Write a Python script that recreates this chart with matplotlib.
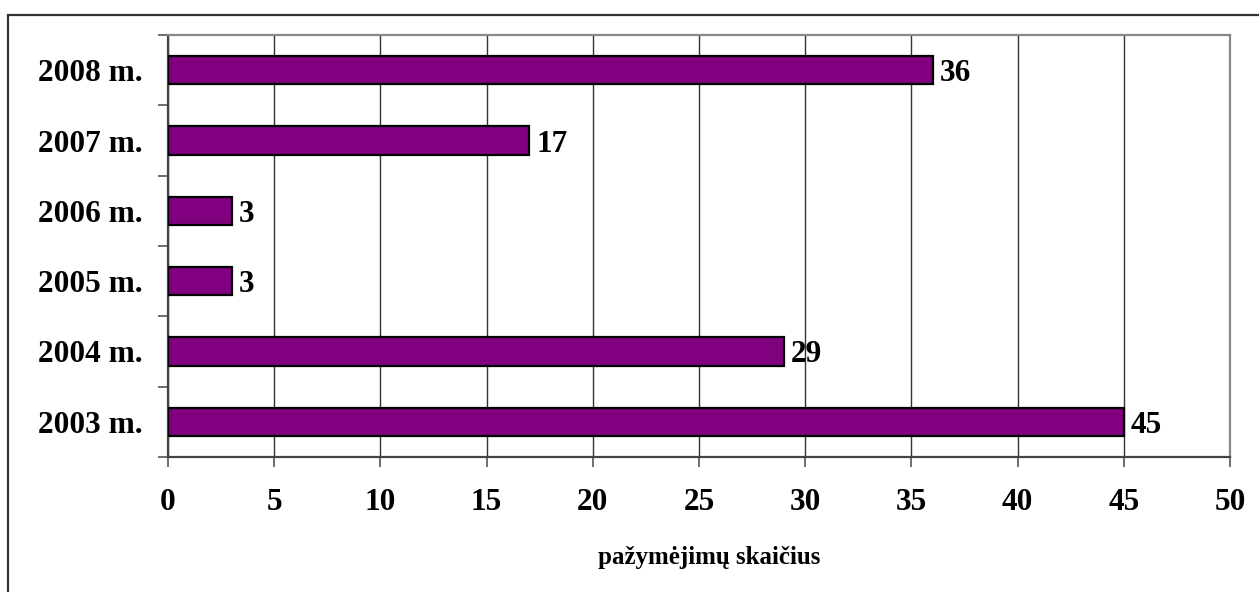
import matplotlib
matplotlib.use("Agg")
import matplotlib.pyplot as plt
from matplotlib.patches import Rectangle

categories = ["2003 m.", "2004 m.", "2005 m.", "2006 m.", "2007 m.", "2008 m."]
values = [45, 29, 3, 3, 17, 36]
xticks = [0, 5, 10, 15, 20, 25, 30, 35, 40, 45, 50]
xlabel = "pažymėjimų skaičius"

W, H = 1259, 592
fig = plt.figure(figsize=(W / 100, H / 100), dpi=100)
font = ["Liberation Serif", "DejaVu Serif"]
FS = 22.5

# outer frame
fig.patches.append(Rectangle((8 / W, -0.1), 1.2, (H - 15) / H + 0.1, transform=fig.transFigure,
                             fill=False, edgecolor="#333333", linewidth=1.6))

left, right, top, bottom = 168, 1230, 35, 457
ax = fig.add_axes([left / W, 1 - bottom / H, (right - left) / W, (bottom - top) / H])

y = list(range(len(categories)))
ax.barh(y, values, height=0.4, color="#800080", edgecolor="black", linewidth=1.6, zorder=3)
for yi, v in zip(y, values):
    ax.annotate(str(v), (v, yi), xytext=(5, 0), textcoords="offset points",
                va="center_baseline", ha="left", fontsize=FS, fontweight="bold", family=font, zorder=4)

ax.set_xlim(0, 50)
ax.set_ylim(-0.5, len(categories) - 0.5)
ax.set_xticks(xticks)
ax.set_xticklabels([str(t) for t in xticks], fontsize=FS, fontweight="bold", family=font)
ax.set_yticks([i - 0.5 for i in range(len(categories) + 1)])
ax.set_yticklabels([])
ax.set_yticks(y, minor=True)
ax.set_yticklabels(categories, minor=True, fontsize=FS, fontweight="bold", family=font)
ax.tick_params(axis="y", which="minor", length=0, pad=18)
ax.tick_params(axis="y", which="major", length=7, width=1.2, color="#555555", direction="out")
ax.tick_params(axis="x", length=7, width=1.2, color="#555555", direction="out", pad=15)

ax.grid(axis="x", color="#333333", linewidth=1.0, zorder=0)
ax.set_axisbelow(True)
for s in ["top", "right"]:
    ax.spines[s].set_color("#888888")
    ax.spines[s].set_linewidth(1.6)
for s in ["left", "bottom"]:
    ax.spines[s].set_color("#444444")
    ax.spines[s].set_linewidth(1.6)

ax.set_xlabel(xlabel, fontsize=18, fontweight="bold", family=font)
ax.xaxis.set_label_coords(0.51, -0.21)

fig.savefig("out.png", dpi=100)
